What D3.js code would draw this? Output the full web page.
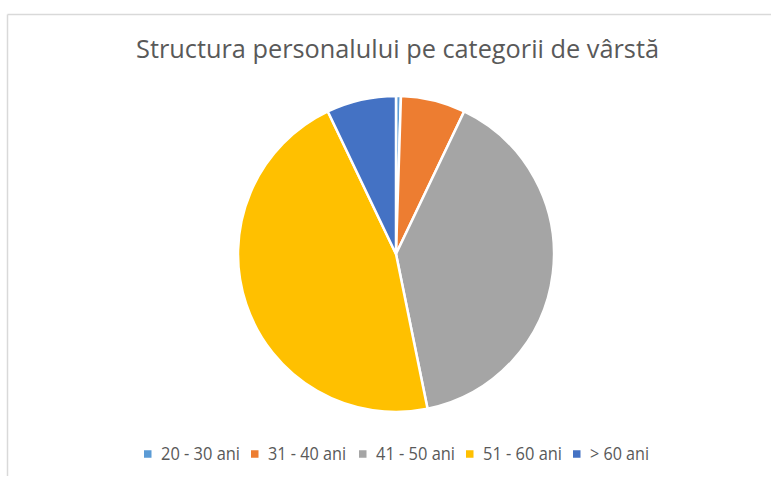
<!DOCTYPE html>
<html>
<head>
<meta charset="utf-8">
<script src="https://cdn.jsdelivr.net/npm/d3@7"></script>
<style>
  body { margin: 0; background: #fff; }
  .allText { font-family: "Open Sans", "Noto Sans", sans-serif; fill: #595959; }
</style>
</head>
<body>
<svg id="chart"></svg>
<script>
var categories = ["20 - 30 ani", "31 - 40 ani", "41 - 50 ani", "51 - 60 ani", "> 60 ani"];
var values = [0.5, 6.6, 39.7, 46.1, 7.1];
var colors = ["#5B9BD5", "#ED7D31", "#A5A5A5", "#FFC000", "#4472C4"];
var legendX = [144, 251, 359, 466, 573];
var legendTextWidth = [79, 78, 79, 79, 59];

var width = 771, height = 478;
var svg = d3.select("#chart").attr("width", width).attr("height", height);

// chart frame (only top and left edges are visible)
svg.append("line").attr("x1", 7.5).attr("y1", 14.5).attr("x2", width).attr("y2", 14.5)
    .attr("stroke", "#d9d9d9").attr("stroke-width", 1.5);
svg.append("line").attr("x1", 7.5).attr("y1", 14.5).attr("x2", 7.5).attr("y2", 476)
    .attr("stroke", "#d9d9d9").attr("stroke-width", 1.5);

svg.append("text")
    .attr("class", "allText")
    .attr("x", 136)
    .attr("y", 58)
    .attr("font-size", 26)
    .attr("textLength", 523)
    .attr("lengthAdjust", "spacingAndGlyphs")
    .text("Structura personalului pe categorii de vârstă");

var radius = 158;
var pie = d3.pie().sort(null).value(function (d) { return d; });
var arc = d3.arc().innerRadius(0).outerRadius(radius);
var colorScale = d3.scaleOrdinal().domain(categories).range(colors);

var g = svg.append("g").attr("transform", "translate(396,254)");
g.selectAll("path")
    .data(pie(values))
    .enter().append("path")
    .attr("d", arc)
    .attr("fill", function (d, i) { return colorScale(categories[i]); })
    .attr("stroke", "#fff")
    .attr("stroke-width", 2.5);

var legend = svg.append("g").attr("class", "legend");
var items = legend.selectAll("g")
    .data(categories)
    .enter().append("g")
    .attr("transform", function (d, i) { return "translate(" + legendX[i] + ",454)"; });

items.append("rect")
    .attr("x", 0).attr("y", -3.75)
    .attr("width", 7.5).attr("height", 7.5)
    .attr("fill", function (d) { return colorScale(d); });

items.append("text")
    .attr("class", "allText")
    .attr("x", 17)
    .attr("y", 6)
    .attr("font-size", 17.5)
    .attr("textLength", function (d, i) { return legendTextWidth[i]; })
    .attr("lengthAdjust", "spacingAndGlyphs")
    .text(function (d) { return d; });
</script>
</body>
</html>
